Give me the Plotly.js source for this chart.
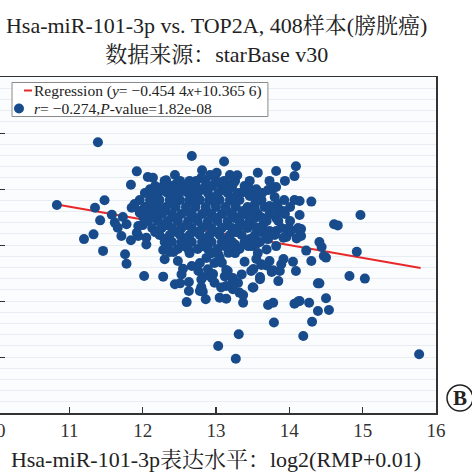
<!DOCTYPE html>
<html><head><meta charset="utf-8">
<script src="https://cdn.plot.ly/plotly-3.0.1.min.js"></script>
<style>html,body{margin:0;padding:0;overflow:hidden;background:#fff;width:472px;height:476px}
#chart{position:absolute;left:-4px;top:0;width:476px;height:476px}</style>
</head><body><div id="chart"></div>
<script>
// Regression line endpoints
const regX = [10.87, 15.79];
const regY = [5.43, 3.18];

// Scattered / outer samples
const outerX = [11.39,10.83,11.92,12.07,11.84,11.48,11.35,11.42,11.58,11.73,
12.16,11.85,11.96,12.05,12.19,11.71,11.92,12.05,11.20,11.33,
11.46,11.76,11.78,12.02,11.84,11.94,12.05,12.28,12.44,12.51,
12.63,12.63,12.60,12.28,12.30,12.53,12.42,12.48,12.67,11.66,
12.82,12.86,13.05,13.14,12.80,13.03,13.31,13.27,13.37,13.32,
13.23,13.14,13.51,13.60,13.71,13.79,14.07,14.12,14.27,14.19,
14.31,14.39,14.39,14.09,14.30,14.05,13.89,13.78,13.73,13.62,
13.51,13.60,13.39,13.35,13.23,13.16,13.03,13.08,12.92,12.94,
12.82,12.55,12.37,12.30,13.96,14.10,14.16,13.96,13.82,13.69,
13.55,14.44,14.92,14.47,14.50,14.23,14.82,15.03,14.41,14.14,
14.50,14.54,15.77,14.30,14.97,14.61,14.66,14.16,14.14,14.14,
14.14,12.67,13.11,12.81,13.01,12.80,13.29,13.57,13.82,14.09,
14.07,13.01,13.26,13.21,13.38,13.55,13.71,13.82,13.94,14.07,
12.32,12.45,12.30,12.14,12.55,12.69,12.10,12.10,13.46,13.55,
13.85,13.94,13.82,13.89,13.73,13.92,14.01,14.12,13.69,13.60,
13.46,13.35,14.41,13.17,13.24,13.14,12.78,13.37,13.73,13.82,
13.80,13.85,13.62,13.55,13.46,13.53,13.37,13.30,12.32,12.51,
12.46,12.19,12.30,12.66,12.73,12.01,12.14,12.14,11.62,11.78,
11.94,12.01,12.78,12.80,13.48,13.55,13.62,13.69,13.76,13.87,
13.12,13.23,13.14,13.30,13.37,13.50,12.96,12.98,13.07,13.78,
13.85,13.92,13.82,13.69,13.44,13.26,13.17,13.05,12.98,12.87,
12.78,12.76,12.89,12.80];
const outerY = [7.67,5.43,6.63,6.43,6.15,5.60,5.33,4.88,5.08,5.00,
5.83,5.33,5.15,5.27,5.57,4.32,4.44,4.26,4.21,4.38,
3.79,3.67,3.33,2.89,4.17,4.32,4.02,2.87,2.60,2.63,
2.68,2.36,1.96,3.82,3.49,2.95,3.75,3.43,3.25,4.62,
2.33,2.06,2.12,2.08,2.45,0.39,0.81,-0.06,1.94,2.30,
2.42,2.54,2.48,2.78,1.86,1.23,1.90,1.98,1.94,0.75,
1.26,1.64,2.63,3.07,3.43,3.40,3.31,3.10,3.43,3.31,
3.14,2.86,3.40,2.95,2.71,3.07,3.67,3.37,2.95,2.83,
2.86,3.15,3.75,4.11,4.29,4.23,4.57,4.57,4.50,4.23,
4.05,3.93,3.76,3.61,3.55,3.80,2.89,2.80,2.63,2.00,
2.10,1.68,0.10,5.55,5.07,4.74,4.70,4.32,4.50,5.07,
5.57,7.18,6.98,6.67,6.58,6.40,6.49,6.58,6.64,6.81,
6.46,6.23,6.29,6.05,5.89,5.99,5.96,6.07,6.29,5.61,
6.31,6.17,6.05,6.40,5.93,5.93,5.93,5.45,5.75,5.57,
5.27,5.11,4.97,4.61,4.50,4.26,4.56,4.61,4.86,4.61,
4.79,5.08,4.11,6.16,6.22,5.93,5.95,5.90,5.39,5.39,
5.08,4.86,4.98,4.62,4.92,5.27,5.21,4.62,6.10,6.29,
6.07,5.86,5.93,5.99,6.29,5.24,5.39,5.15,4.80,4.74,
4.68,4.98,2.36,2.50,3.07,3.50,3.29,3.27,3.04,3.07,
2.88,2.82,3.11,2.64,2.21,2.48,2.96,2.65,2.48,1.94,
2.71,3.50,3.96,3.84,3.96,4.02,3.72,3.54,3.36,3.54,
3.36,3.07,3.13,2.77];

// Dense core samples
const coreX = [12.17,12.28,12.40,12.58,12.72,12.86,12.95,13.08,13.22,13.39,
12.03,12.21,12.34,12.48,12.62,12.75,12.89,13.03,13.16,13.30,13.49,13.63,
11.96,12.10,12.23,12.37,12.51,12.64,12.78,12.91,13.05,13.19,13.32,13.62,13.93,
12.03,12.21,12.32,12.45,12.59,12.72,12.86,13.00,13.13,13.27,13.43,13.66,14.01,
12.10,12.26,12.40,12.53,12.67,12.81,12.94,13.08,13.22,13.38,13.57,13.73,
12.07,12.21,12.34,12.48,12.62,12.75,12.89,13.02,13.16,13.32,14.01,
12.13,12.26,12.40,12.53,12.67,12.81,12.94,13.08,13.22,13.43,
12.23,12.37,12.51,12.64,12.78,12.91,13.05,13.19,13.35,13.53,13.80,
12.40,12.53,12.67,12.81,12.94,13.08,13.22,13.39,13.60,
12.48,12.62,12.75,12.89,13.02,13.19,13.32,
12.30,12.64,12.86,13.00,13.11,13.46,13.73,
12.44,12.92,13.19,
12.10,12.44,12.78,13.12,13.46,13.76,
12.13,12.44,12.71,12.99,13.26,13.53,13.80,
11.89,12.17,12.44,12.71,12.99,13.26,13.53,13.84,
11.96,12.30,12.60,12.87,13.15,13.46,13.91,
12.17,12.44,12.71,12.99,13.26,13.53,
12.00,12.33,12.60,12.87,13.15,13.37,13.64,
12.17,12.47,12.74,13.01,13.28,13.62,14.01,
12.30,12.60,12.87,13.15,13.46,13.71,
12.34,12.57,12.82,13.12,13.49,
12.64,12.94,13.26,13.57];
const coreY = [6.11,6.11,6.11,6.11,6.11,6.11,6.11,6.11,6.11,6.11,
5.86,5.86,5.86,5.86,5.86,5.86,5.86,5.86,5.86,5.86,5.86,5.86,
5.61,5.61,5.61,5.61,5.61,5.61,5.61,5.61,5.61,5.61,5.61,5.61,5.61,
5.36,5.36,5.36,5.36,5.36,5.36,5.36,5.36,5.36,5.36,5.36,5.36,5.36,
5.11,5.11,5.11,5.11,5.11,5.11,5.11,5.11,5.11,5.11,5.11,5.11,
4.86,4.86,4.86,4.86,4.86,4.86,4.86,4.86,4.86,4.86,4.86,
4.61,4.61,4.61,4.61,4.61,4.61,4.61,4.61,4.61,4.61,
4.36,4.36,4.36,4.36,4.36,4.36,4.36,4.36,4.36,4.36,4.36,
4.11,4.11,4.11,4.11,4.11,4.11,4.11,4.11,4.11,
3.86,3.86,3.86,3.86,3.86,3.86,3.86,
6.29,6.29,6.29,6.29,6.29,6.29,6.29,
6.50,6.50,6.50,
5.99,5.99,5.99,5.99,5.99,5.99,
5.71,5.71,5.71,5.71,5.71,5.71,5.71,
5.46,5.46,5.46,5.46,5.46,5.46,5.46,5.46,
5.21,5.21,5.21,5.21,5.21,5.21,5.21,
4.96,4.96,4.96,4.96,4.96,4.96,
4.71,4.71,4.71,4.71,4.71,4.71,4.71,
4.46,4.46,4.46,4.46,4.46,4.46,4.46,
4.21,4.21,4.21,4.21,4.21,4.21,
3.96,3.96,3.96,3.96,3.96,
3.71,3.71,3.71,3.71];

const xTicks = [10,11,12,13,14,15,16];
const legendLabels = ['Regression (<i>y</i>= −0.454 4<i>x</i>+10.365 6)',
                      '<i>r</i>= −0.274,<i>P</i>-value=1.82e-08'];
const lineColor = '#e8292b';
const dotColor = '#184b8c';

const serif = '"Liberation Serif", "Times New Roman", "Noto Serif CJK SC", "Noto Sans CJK SC", serif';
const ptX = coreX.concat(outerX);
const ptY = coreY.concat(outerY);

const traces = [
  {x: regX, y: regY, mode: 'lines', type: 'scatter',
   line: {color: lineColor, width: 2}, name: legendLabels[0]},
  {x: ptX, y: ptY, mode: 'markers', type: 'scatter',
   marker: {color: dotColor, size: 10}, name: legendLabels[1]}
];

const layout = {
  width: 476, height: 476,
  margin: {l: 0, r: 36, t: 77, b: 63},
  paper_bgcolor: '#ffffff',
  plot_bgcolor: '#fbfcfd',
  font: {family: serif, color: '#222'},
  showlegend: false,
  title: {text: 'Hsa-miR-101-3p vs. TOP2A, 408样本(膀胱癌)<br>数据来源：starBase v30',
          font: {family: serif, size: 22, color: '#222'},
          x: 0.4636, xanchor: 'center', y: 0.93, yanchor: 'middle', yref: 'container'},
  xaxis: {range: [10, 16], tickvals: xTicks, ticktext: xTicks.map(String),
          ticks: 'inside', ticklen: 6, tickcolor: '#333', tickwidth: 1.2,
          ticklabeloverflow: 'allow',
          showgrid: false, zeroline: false,
          showline: true, mirror: true, linecolor: '#333', linewidth: 1.5,
          tickfont: {family: serif, size: 19, color: '#333'},
          title: {text: 'Hsa-miR-101-3p表达水平：log2(RMP+0.01)',
                  font: {family: serif, size: 22, color: '#222'}, standoff: 11}},
  yaxis: {range: [-2, 10], dtick: 2, ticks: 'inside', ticklen: 9, tickcolor: '#333',
          showticklabels: false, zeroline: false,
          showgrid: true, gridcolor: '#e7edf3', gridwidth: 1,
          minor: {dtick: 0.4, showgrid: true, gridcolor: '#e7edf3', gridwidth: 1},
          showline: true, mirror: true, linecolor: '#333', linewidth: 1.5},
  shapes: [
    // legend box
    {type: 'rect', xref: 'paper', yref: 'paper', x0: 0.0364, x1: 0.618, y0: 0.8824, y1: 0.9836,
     fillcolor: '#ffffff', line: {color: '#8a8a8a', width: 1}},
    // legend symbols
    {type: 'line', xref: 'paper', yref: 'paper', x0: 0.0636, x1: 0.0818, y0: 0.9598, y1: 0.9598,
     line: {color: lineColor, width: 2}},
    {type: 'circle', xref: 'paper', yref: 'paper', x0: 0.0409, x1: 0.0636, y0: 0.8914, y1: 0.9211,
     fillcolor: dotColor, line: {color: dotColor, width: 0}},
    // circled B
    {type: 'circle', xref: 'paper', yref: 'paper', x0: 1.025, x1: 1.084, y0: 0.006, y1: 0.083,
     line: {color: '#222', width: 1.5}}],
  annotations: [
    {text: legendLabels[0], xref: 'paper', yref: 'paper', x: 0.0841, y: 0.9598,
     xanchor: 'left', yanchor: 'middle', showarrow: false, borderpad: 0,
     font: {family: serif, size: 15.5, color: '#222'}},
    {text: legendLabels[1], xref: 'paper', yref: 'paper', x: 0.0841, y: 0.9062,
     xanchor: 'left', yanchor: 'middle', showarrow: false, borderpad: 0,
     font: {family: serif, size: 15.5, color: '#222'}},
    {text: '<b>B</b>', xref: 'paper', yref: 'paper', x: 1.0545, y: 0.0446,
     xanchor: 'center', yanchor: 'middle', showarrow: false,
     font: {family: serif, size: 21, color: '#222'}}]
};

Plotly.newPlot('chart', traces, layout, {displayModeBar: false, staticPlot: true});
</script></body></html>
